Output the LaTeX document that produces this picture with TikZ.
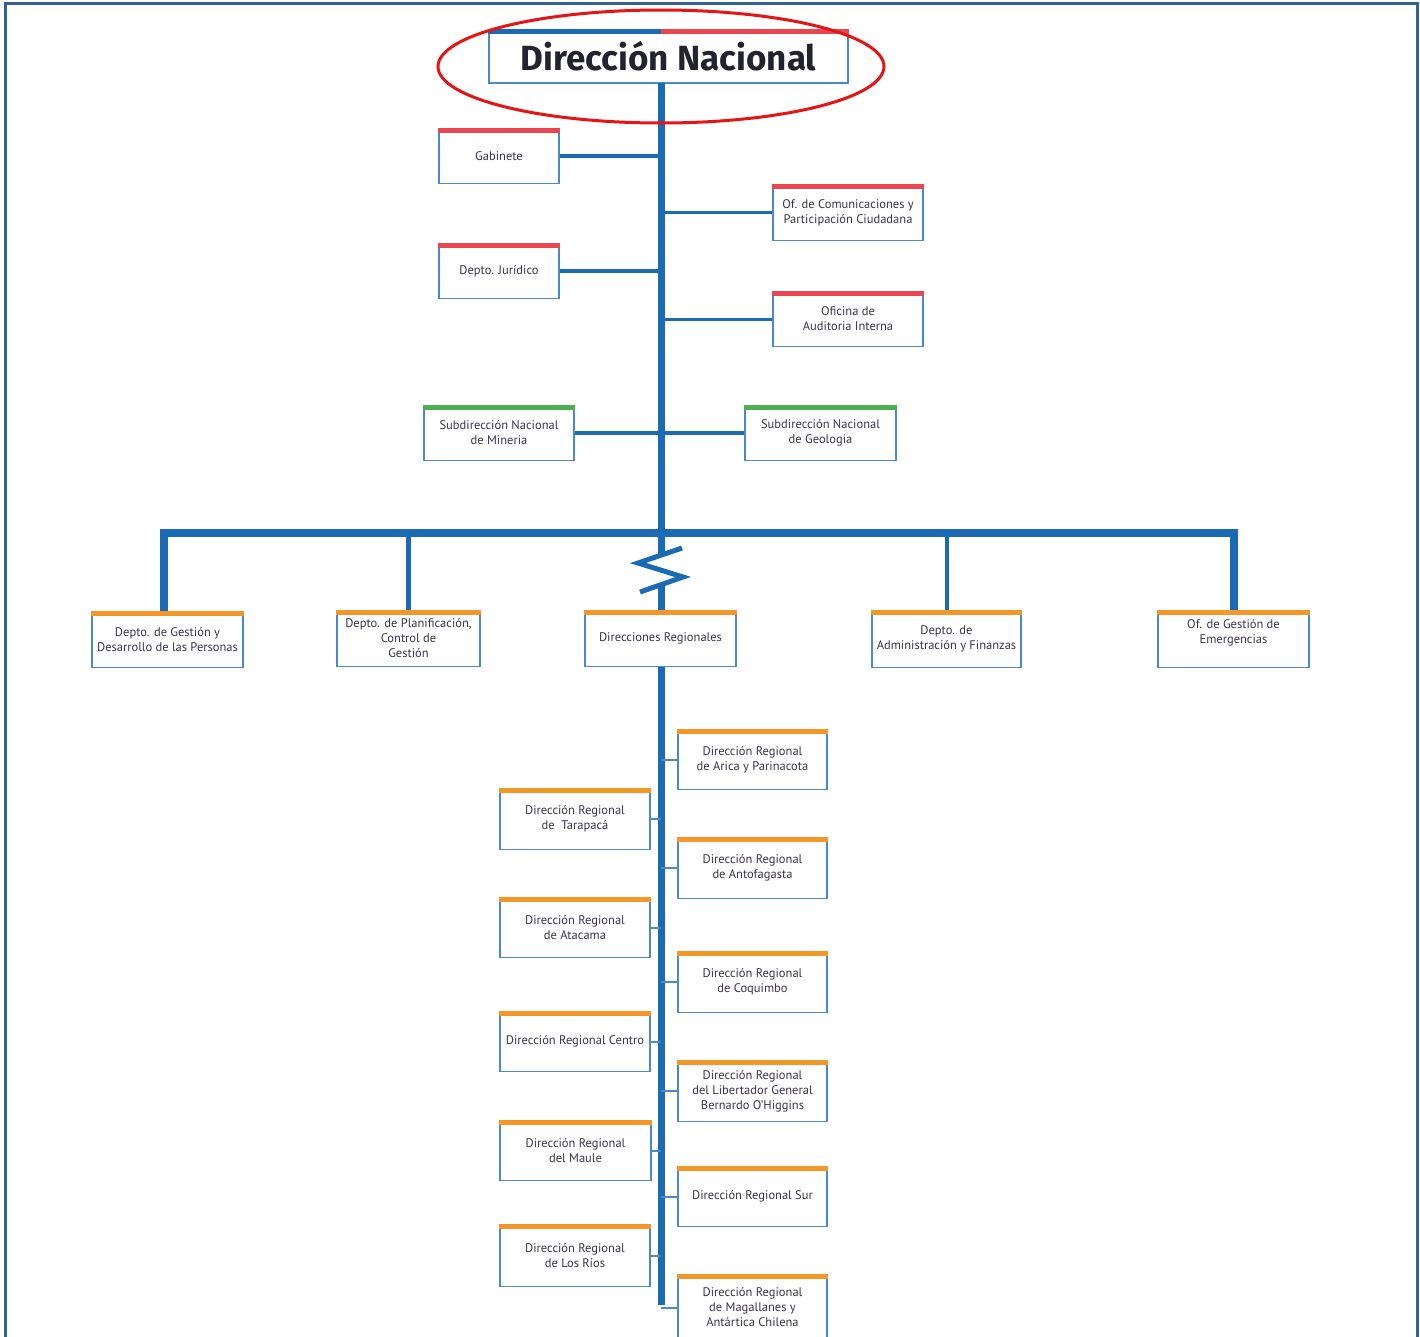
\documentclass[tikz,border=0pt]{standalone}
\usepackage{fontspec}
\usetikzlibrary{shapes.geometric}
\setmainfont{PT Sans}
\newfontfamily\titlefont{Fira Sans}
\definecolor{framec}{RGB}{51,99,150}
\definecolor{trunkc}{RGB}{26,106,181}
\definecolor{boxc}{RGB}{74,138,200}
\definecolor{redbar}{RGB}{234,70,80}
\definecolor{greenbar}{RGB}{76,175,80}
\definecolor{orangebar}{RGB}{244,150,40}
\definecolor{txtc}{RGB}{60,52,72}
\definecolor{titlec}{RGB}{35,35,47}
\definecolor{ellc}{RGB}{230,20,20}
\tikzset{
  obox/.style={draw=boxc, line width=1.5, fill=white, rectangle, inner sep=0pt,
    align=center, text=txtc, font=\fontsize{12.5}{15}\selectfont},
  trunk/.style={draw=trunkc, line width=7},
  barline/.style={draw=trunkc, line width=8, line join=miter},
  sidecon/.style={draw=trunkc, line width=4},
  sidecon3/.style={draw=trunkc, line width=3},
  regcon/.style={draw=boxc, line width=2},
  zig/.style={draw=trunkc, line width=5, line join=miter},
}
\newcommand\obox[7]{%
  \node[obox, minimum width={#4-#2}, minimum height={#5-#3}] (#1) at ({(#2+#4)/2},{(#3+#5)/2+1.5}) {#7};
  \fill[#6] (#1.north west) rectangle ([yshift=-5pt]#1.north east);
}
\begin{document}
\begin{tikzpicture}[x=1pt,y=-1pt]
\useasboundingbox (0,0) rectangle (1420,1336);
% frame
\draw[framec, line width=3] (5.5,1340) -- (5.5,3.5) -- (1417.5,3.5) -- (1417.5,1340);

% trunk coordinates
\coordinate (ttop) at (661,83);
\coordinate (tbar) at (661,533);
\coordinate (z1) at (682,548);
\coordinate (z2) at (638,563);
\coordinate (z3) at (683,577);
\coordinate (z4) at (640,592);
\coordinate (zin) at (661,555);
\coordinate (zout) at (661,584.7);
\coordinate (barL) at (164,533);
\coordinate (rbot) at (661,1305);

% top-level boxes
\obox{gab}{439}{127}{559}{182}{redbar}{Gabinete}
\obox{com}{773}{183}{923}{239}{redbar}{Of. de Comunicaciones y\\Participación Ciudadana}
\obox{jur}{439}{242}{559}{297}{redbar}{Depto. Jurídico}
\obox{aud}{773}{290}{923}{345}{redbar}{Oficina de\\Auditoria Interna}
\obox{min}{424}{404}{574}{459}{greenbar}{Subdirección Nacional\\de Mineria}
\obox{geo}{745}{404}{896}{459}{greenbar}{Subdirección Nacional\\de Geologia}

% trunk
\draw[trunk] (ttop) -- (zin);
\draw[zig] (z1) -- (z2) -- (z3) -- (z4);

% side connectors
\draw[sidecon] (gab.east) -- (gab.east -| ttop);
\draw[sidecon] (jur.east) -- (jur.east -| ttop);
\draw[sidecon3] (com.west) -- (com.west -| ttop);
\draw[sidecon3] (aud.west) -- (aud.west -| ttop);
\draw[sidecon] (min.east) -- (min.east -| ttop);
\draw[sidecon] (geo.west) -- (geo.west -| ttop);

% second row boxes
\obox{gp}{92}{610}{243}{666}{orangebar}{Depto. de Gestión y\\Desarrollo de las Personas}
\obox{pl}{337}{609}{480}{665}{orangebar}{Depto. de Planificación,\\Control de\\Gestión}
\obox{dr}{585}{609}{736}{665}{orangebar}{Direcciones Regionales}
\obox{af}{872}{609}{1021}{666}{orangebar}{Depto. de\\Administración y Finanzas}
\obox{em}{1158}{609}{1309}{666}{orangebar}{\raisebox{3pt}[0pt][0pt]{\begin{tabular}{@{}c@{}}Of. de Gestión de\\Emergencias\end{tabular}}}

% horizontal bar and drops
\draw[barline] (gp.north -| barL) -- (barL) -- (em.north |- barL) -- (em.north);
\draw[draw=trunkc, line width=5] (pl.north |- barL) -- (pl.north);
\draw[draw=trunkc, line width=4] (af.north |- barL) -- (af.north);
\draw[trunk] (zout) -- (dr.north -| zout);

% regional boxes
\obox{ari}{678}{728}{827}{788}{orangebar}{Dirección Regional\\de Arica y Parinacota}
\obox{tar}{500}{787}{650}{848}{orangebar}{Dirección Regional\\de\ \ Tarapacá}
\obox{ant}{678}{836}{827}{897}{orangebar}{Dirección Regional\\de Antofagasta}
\obox{ata}{500}{896}{650}{956}{orangebar}{Dirección Regional\\de Atacama}
\obox{coq}{678}{950}{827}{1011}{orangebar}{Dirección Regional\\de Coquimbo}
\obox{cen}{500}{1010}{650}{1070}{orangebar}{Dirección Regional Centro}
\obox{ohi}{678}{1059}{827}{1120}{orangebar}{Dirección Regional\\del Libertador General\\Bernardo O'Higgins}
\obox{mau}{500}{1119}{651}{1179}{orangebar}{Dirección Regional\\del Maule}
\obox{sur}{678}{1165}{827}{1225}{orangebar}{Dirección Regional Sur}
\obox{rio}{500}{1223}{650}{1285}{orangebar}{Dirección Regional\\de Los Ríos}
\obox{mag}{678}{1273}{827}{1339}{orangebar}{Dirección Regional\\de Magallanes y\\Antártica Chilena}

% regional trunk
\draw[trunk] (dr.south -| rbot) -- (rbot);
\foreach \b in {tar,ata,cen,mau,rio} \draw[regcon] (\b.east) -- (\b.east -| rbot);
\foreach \b in {ari,ant,coq,ohi,sur,mag} \draw[regcon] (\b.west) -- (\b.west -| rbot);

% Direccion Nacional
\node[draw=boxc, line width=1.5, fill=white, minimum width=359, minimum height=53, inner sep=0pt,
  text=titlec, font=\titlefont\bfseries\fontsize{35}{40}\selectfont] (dn) at (668.5,56.5) {\raisebox{-2pt}{Dirección Nacional}};
\fill[trunkc] (dn.north west) rectangle ([yshift=-5pt]dn.north -| ttop);
\fill[redbar] (dn.north -| ttop) rectangle ([yshift=-5pt]dn.north east);
\draw[trunk] (dn.south -| ttop) -- (ttop);

% red ellipse
\node[draw=ellc, line width=3, ellipse, minimum width=446, minimum height=113, inner sep=0pt] (ell) at (661,66.5) {};
\end{tikzpicture}
\end{document}
